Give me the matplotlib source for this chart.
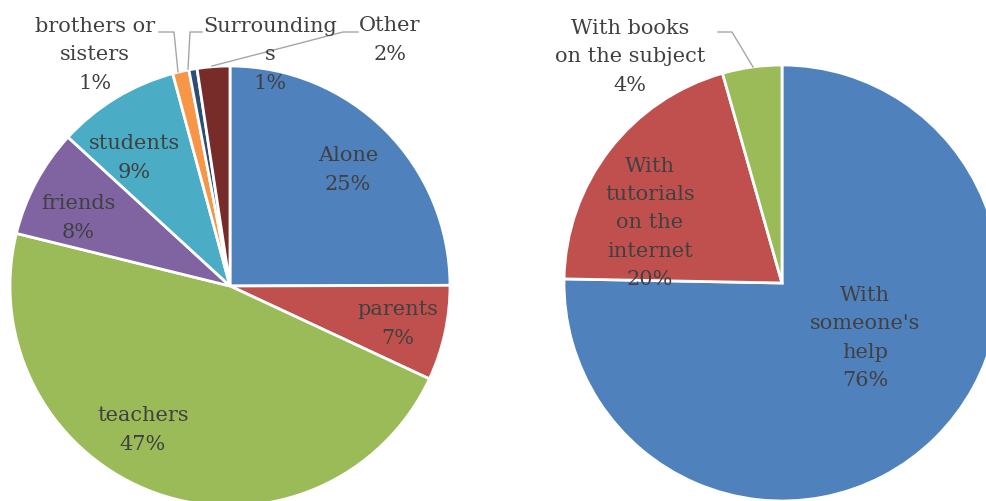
import matplotlib
matplotlib.use("Agg")
import matplotlib.pyplot as plt

# Left pie data
left_cats = ["Alone", "parents", "teachers", "friends", "students",
             "brothers or\nsisters", "Surrounding\ns", "Other"]
left_vals = [25, 7, 47, 8, 9, 1.2, 0.6, 2.4]
left_pct = ["25%", "7%", "47%", "8%", "9%", "1%", "1%", "2%"]
left_colors = ["#4F81BD", "#C0504D", "#9BBB59", "#8064A2", "#4BACC6",
               "#F79646", "#2C4D75", "#772C2A"]

# Right pie data
right_cats = ["With\nsomeone's\nhelp", "With\ntutorials\non the\ninternet",
              "With books\non the subject"]
right_vals = [75.3, 20.3, 4.4]
right_pct = ["76%", "20%", "4%"]
right_colors = ["#4F81BD", "#C0504D", "#9BBB59"]

W, H = 986, 502
fig = plt.figure(figsize=(W / 100, H / 100), dpi=100)
ax = fig.add_axes([0, 0, 1, 1])

def py(y):
    return H - y

ax.pie(left_vals, colors=left_colors, startangle=90, counterclock=False,
       center=(230, py(287)), radius=220,
       wedgeprops=dict(edgecolor="white", linewidth=2))
ax.pie(right_vals, colors=right_colors, startangle=90, counterclock=False,
       center=(782, py(284)), radius=218,
       wedgeprops=dict(edgecolor="white", linewidth=2))

ax.set_xlim(0, W)
ax.set_ylim(0, H)
ax.set_aspect("equal")
ax.axis("off")

tc = "#404040"
fs = 15
font = dict(family="DejaVu Serif", fontsize=fs, color=tc, ha="center",
            va="center", linespacing=1.62)

left_pos = [(348, 170), (398, 324), (143, 430), (78, 218), (134, 158),
            (95, 55), (270, 55), (390, 40)]
for c, p, (x, y) in zip(left_cats, left_pct, left_pos):
    ax.text(x, py(y), c + "\n" + p, **font)

right_pos = [(865, 338), (650, 223), (630, 57)]
for c, p, (x, y) in zip(right_cats, right_pct, right_pos):
    ax.text(x, py(y), c + "\n" + p, **font)

lc = "#A6A6A6"
leaders = [
    [(159, 33), (174, 33), (178, 73)],
    [(202, 33), (190, 33), (188, 70)],
    [(358, 33), (343, 33), (212, 67)],
    [(718, 33), (732, 33), (753, 68)],
]
for pts in leaders:
    ax.plot([p[0] for p in pts], [py(p[1]) for p in pts], color=lc, lw=1)

fig.savefig("out.png", dpi=100)
